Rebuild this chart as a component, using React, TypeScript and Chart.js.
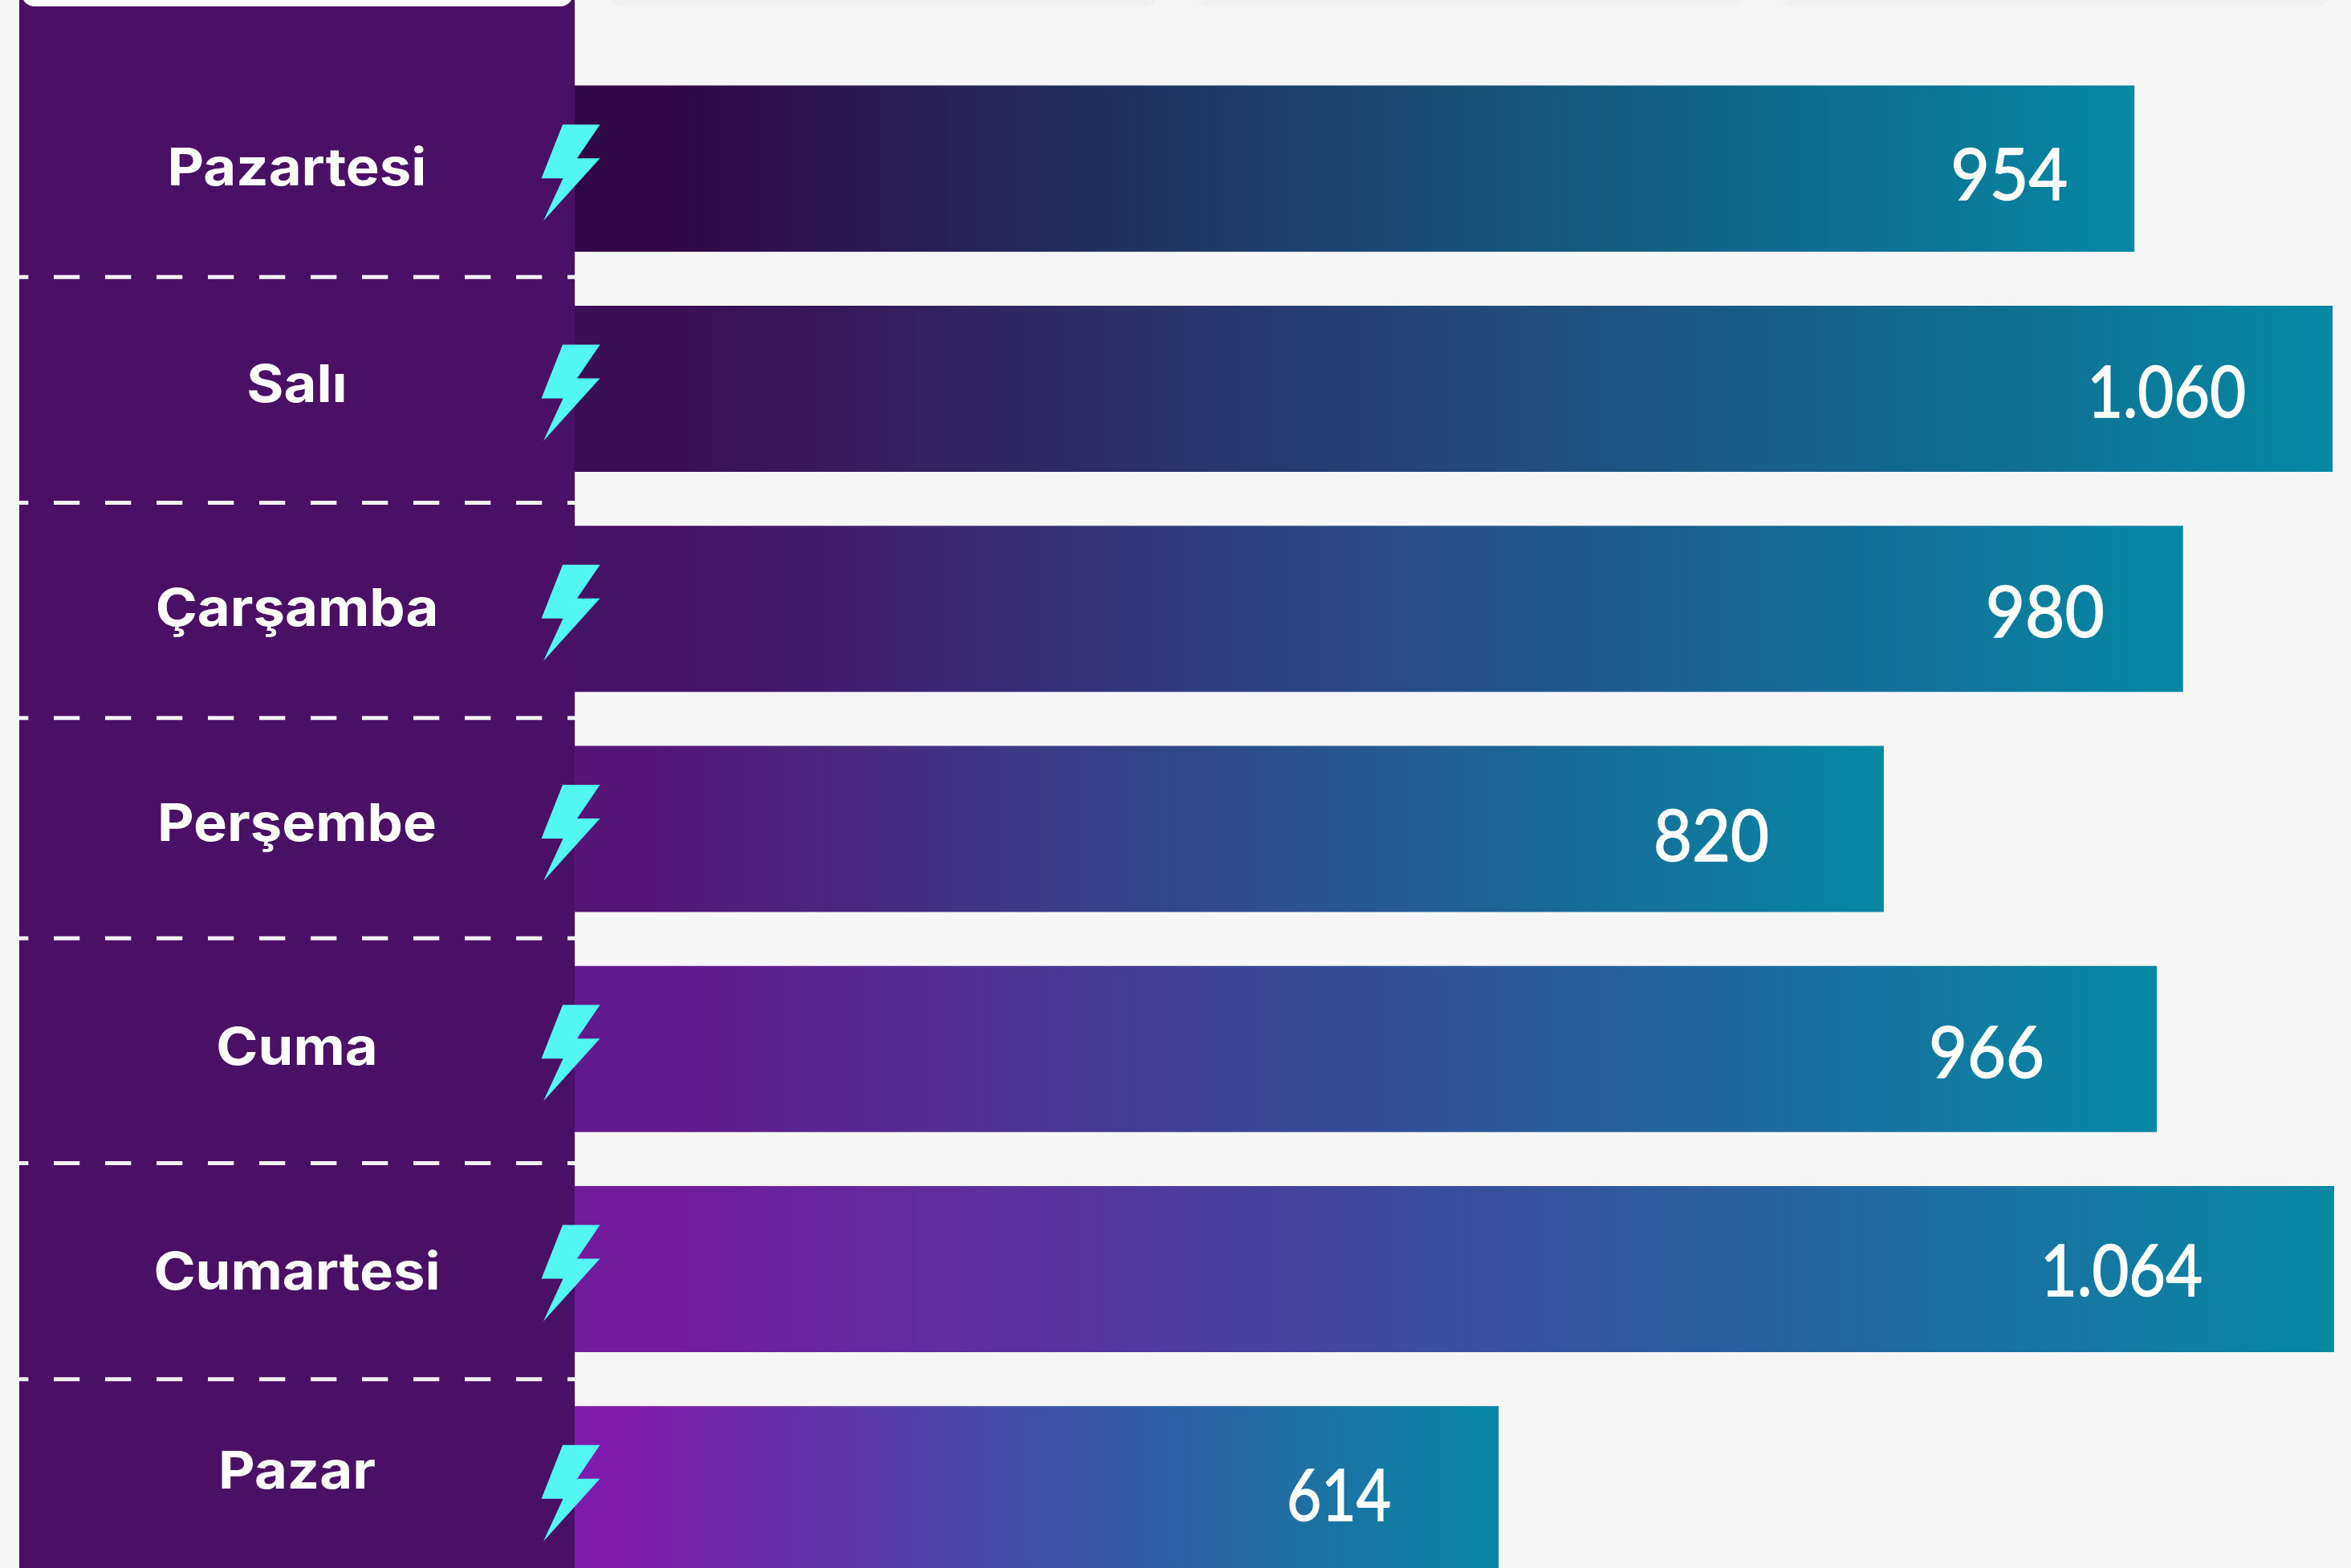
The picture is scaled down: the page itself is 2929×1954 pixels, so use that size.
import React, { useEffect, useRef } from "react";
import { Chart, registerables } from "chart.js";

Chart.register(...registerables);

const categories = ["Pazartesi", "Salı", "Çarşamba", "Perşembe", "Cuma", "Cumartesi", "Pazar"];
const values = [954, 1060, 980, 820, 966, 1064, 614];
const valueLabels = ["954", "1.060", "980", "820", "966", "1.064", "614"];

const startColors = ["#2f0845", "#3a0f55", "#461266", "#551678", "#621a8c", "#721c9c", "#7f1cae"];
const midColors = ["#1b4670", "#22477a", "#294a85", "#2e4c8c", "#344d96", "#3a4e9e", "#3f50a5"];
const endColor = "#0588a3";

const labelOffsets = [1, -3, 2, -5, 0, 6, -20];
const valueInsets = [83, 108, 98, 143, 140, 164, 134];
const valueOffsets = [10, 7, 6, 11, 7, 4, 10];
const valueWidths = [146, 198, 148, 144, 144, 202, 130];
const dashOffsets = [-2, 5, -1, -1, 5, 0];

const PANEL = "#4a1066";
const PAGE = "#f6f6f6";

const overlay = {
  id: "overlay",
  beforeDraw(chart: any) {
    const { ctx } = chart;
    ctx.save();
    ctx.fillStyle = PAGE;
    ctx.fillRect(0, 0, chart.width, chart.height);
    ctx.fillStyle = PANEL;
    ctx.fillRect(24, 0, 692, chart.height);
    ctx.fillStyle = "#ffffff";
    ctx.beginPath();
    ctx.roundRect(27, -30, 687, 38, 16);
    ctx.fill();
    ctx.fillStyle = "#f1f1f1";
    [[762, 678], [1491, 681], [2219, 682]].forEach(([x, w]) => {
      ctx.beginPath();
      ctx.roundRect(x, -30, w, 39, 14);
      ctx.fill();
    });
    ctx.restore();
  },
  afterDatasetsDraw(chart: any) {
    const { ctx } = chart;
    const y = chart.scales.y;
    const left = chart.scales.x.left;
    const bars = chart.getDatasetMeta(0).data;
    ctx.save();

    // dashed row separators
    ctx.strokeStyle = "#f4f0f5";
    ctx.lineWidth = 5;
    ctx.setLineDash([32.3, 31.7]);
    dashOffsets.forEach((off, i) => {
      const py = (y.getPixelForValue(i) + y.getPixelForValue(i + 1)) / 2 + off;
      ctx.lineDashOffset = 21;
      ctx.beginPath();
      ctx.moveTo(24, py);
      ctx.lineTo(left, py);
      ctx.stroke();
    });
    ctx.setLineDash([]);

    categories.forEach((name, i) => {
      const cy = y.getPixelForValue(i);

      // lightning bolt
      const pts = [[-15, -55], [31.5, -55], [3, -13], [31.5, -13], [-39, 65], [-14.5, 12], [-41.5, 12]];
      ctx.fillStyle = "#52f6f3";
      ctx.beginPath();
      pts.forEach(([dx, dy], k) => (k ? ctx.lineTo(left + dx, cy + dy) : ctx.moveTo(left + dx, cy + dy)));
      ctx.closePath();
      ctx.fill();

      // category label, widened to the reference's broad bold face
      ctx.fillStyle = "#ffffff";
      ctx.font = "700 65px Inter";
      ctx.textAlign = "center";
      ctx.textBaseline = "middle";
      ctx.save();
      ctx.translate(370, cy + labelOffsets[i]);
      ctx.scale(1.085, 1);
      ctx.fillText(name, 0, 0);
      ctx.restore();

      // value label
      ctx.font = "400 90px Lato";
      ctx.textAlign = "right";
      ctx.strokeStyle = "#ffffff";
      ctx.lineWidth = 1.5;
      const vx = Math.min(bars[i].x, chart.chartArea.right) - valueInsets[i];
      ctx.fillText(valueLabels[i], vx, cy + valueOffsets[i], valueWidths[i]);
      ctx.strokeText(valueLabels[i], vx, cy + valueOffsets[i], valueWidths[i]);
    });
    ctx.restore();
  },
};

export default function App() {
  const ref = useRef<HTMLCanvasElement>(null);
  useEffect(() => {
    const chart = new Chart(ref.current!, {
      type: "bar",
      data: {
        labels: categories,
        datasets: [
          {
            data: values,
            barPercentage: 0.755,
            categoryPercentage: 1,
            borderWidth: 0,
            backgroundColor: (c: any) => {
              const area = c.chart.chartArea;
              if (!area || c.dataIndex === undefined) return endColor;
              const xs = c.chart.scales.x;
              const end = Math.min(xs.getPixelForValue(values[c.dataIndex]), area.right);
              const g = c.chart.ctx.createLinearGradient(area.left, 0, end, 0);
              g.addColorStop(0, startColors[c.dataIndex]);
              g.addColorStop(0.06, startColors[c.dataIndex]);
              g.addColorStop(0.5, midColors[c.dataIndex]);
              g.addColorStop(1, endColor);
              return g;
            },
          },
        ],
      },
      options: {
        indexAxis: "y",
        responsive: false,
        animation: false,
        layout: { padding: { left: 716, right: 21, top: 73, bottom: 107 } },
        plugins: { legend: { display: false }, tooltip: { enabled: false } },
        scales: {
          x: { display: false, min: 120, max: 1060.8, grid: { display: false } },
          y: { display: false, grid: { display: false } },
        },
      },
      plugins: [overlay],
    } as any);
    return () => chart.destroy();
  }, []);
  return (
    <div style={{ position: "fixed", left: 0, top: 0, width: 2929, height: 1954, overflow: "hidden", background: PAGE }}>
      <canvas ref={ref} width={2929} height={2100} style={{ display: "block" }} />
    </div>
  );
}
